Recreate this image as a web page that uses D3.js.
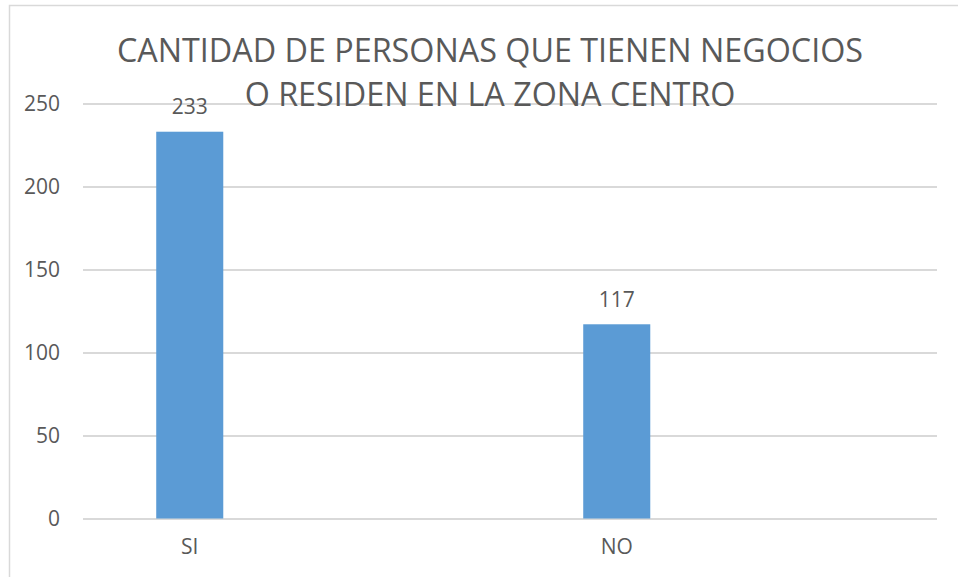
<!DOCTYPE html>
<html>
<head>
<meta charset="utf-8">
<script src="https://cdn.jsdelivr.net/npm/d3@7"></script>
<style>
  html, body { margin: 0; padding: 0; background: #fff; }
  svg { display: block; }
  text { font-family: 'Open Sans', 'Noto Sans', sans-serif; fill: #595959; }
</style>
</head>
<body>
<svg></svg>
<script>
'use strict';

// categories as in the sheet (two empty rows)
const categories = ['SI', '', 'NO', ''];
const values = [233, null, 117, null];
const yTicks = [0, 50, 100, 150, 200, 250];
const titleLines = ['CANTIDAD DE PERSONAS QUE TIENEN NEGOCIOS', 'O RESIDEN EN LA ZONA CENTRO'];

const opts = {
	width: 958,
	height: 577,
	left: 83,
	right: 937,
	top: 103.5,
	bottom: 518.5,
	barColor: '#5B9BD5',
	gridColor: '#D9D9D9'
};

const svg = d3.select('svg')
	.attr('width', opts.width)
	.attr('height', opts.height);

// chart border
svg.append('rect')
	.attr('x', 9.5)
	.attr('y', 5.5)
	.attr('width', 1000)
	.attr('height', 700)
	.attr('fill', 'white')
	.attr('stroke', opts.gridColor)
	.attr('stroke-width', 1.5);

const x = d3.scaleBand()
	.domain(d3.range(categories.length))
	.range([opts.left, opts.right])
	.paddingInner(0.686)
	.paddingOuter(0.343);

const y = d3.scaleLinear()
	.domain([0, 250])
	.range([opts.bottom, opts.top]);

// gridlines + y labels
const yAxis = svg.append('g')
	.attr('transform', `translate(${opts.left},0)`)
	.call(d3.axisLeft(y)
		.tickValues(yTicks)
		.tickSize(-(opts.right - opts.left))
		.tickPadding(23));

yAxis.select('.domain').remove();
yAxis.selectAll('line')
	.attr('stroke', opts.gridColor)
	.attr('stroke-width', 2);
yAxis.selectAll('text')
	.attr('fill', '#595959')
	.style('font-size', '21px');

// x labels
const xAxis = svg.append('g')
	.attr('transform', `translate(0,${opts.bottom})`)
	.call(d3.axisBottom(x)
		.tickFormat((i) => categories[i])
		.tickSize(0)
		.tickPadding(21));

xAxis.select('.domain').remove();
xAxis.selectAll('text')
	.attr('fill', '#595959')
	.style('font-size', '21px');

const bars = values
	.map((v, i) => ({ i: i, v: v }))
	.filter((d) => d.v !== null);

svg.append('g')
	.selectAll('rect')
	.data(bars)
	.join('rect')
	.attr('x', (d) => x(d.i))
	.attr('y', (d) => y(d.v))
	.attr('width', x.bandwidth())
	.attr('height', (d) => y(0) - y(d.v))
	.attr('fill', opts.barColor);

// value labels
svg.append('g')
	.selectAll('text')
	.data(bars)
	.join('text')
	.attr('x', (d) => x(d.i) + x.bandwidth() / 2)
	.attr('y', (d) => y(d.v) - 17.5)
	.attr('text-anchor', 'middle')
	.style('font-size', '21px')
	.text((d) => d.v);

// title
svg.append('text')
	.attr('x', 490)
	.attr('text-anchor', 'middle')
	.style('font-size', '32.3px')
	.selectAll('tspan')
	.data(titleLines)
	.join('tspan')
	.attr('x', 490)
	.attr('y', (d, i) => 62 + i * 44)
	.text((d) => d);
</script>
</body>
</html>
